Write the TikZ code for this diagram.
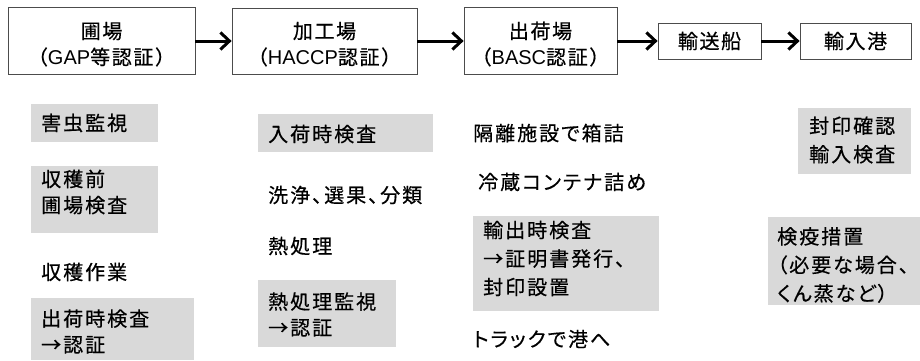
\documentclass[tikz,border=0pt]{standalone}
\usepackage{fontspec}
\setmainfont{Noto Sans CJK JP}[LetterSpace=10, RawFeature=+palt, FakeBold=0.5]
\newfontfamily\fullwidthfont{Noto Sans CJK JP}[LetterSpace=8, FakeBold=0.5]
\newfontfamily\latinfont{Liberation Sans}
\usetikzlibrary{arrows.meta}
\newcommand\fonta{\fontsize{20pt}{26pt}\selectfont}
\newcommand\fontb{\fontsize{20pt}{28.5pt}\selectfont}
\newcommand\lt[1]{{\latinfont #1}}
\begin{document}
\begin{tikzpicture}[x=1pt,y=-1pt,
  stagebox/.style={draw=black!70, line width=0.8pt, inner sep=0pt, align=center, font=\fonta\fullwidthfont},
  note/.style={anchor=west, inner sep=0pt, align=left, font=\fonta},
  greyfill/.style={fill=black!15},
  arr/.style={line width=3pt, -{Straight Barb[length=9pt,width=17pt]}}]
\useasboundingbox (0,0) rectangle (920,360);

% stages
\node[stagebox, minimum width=187pt, minimum height=67pt] (b1) at (101.5,41) {\rule{0pt}{23pt}圃場\\（\lt{GAP}等認証）};
\node[stagebox, minimum width=185pt, minimum height=66pt] (b2) at (324.5,41) {\rule{0pt}{23pt}加工場\\（\lt{HACCP}認証）};
\node[stagebox, minimum width=153pt, minimum height=67pt] (b3) at (540.5,41) {\rule{0pt}{23pt}出荷場\\（\lt{BASC}認証）};
\node[stagebox, minimum width=103pt, minimum height=36pt] (b4) at (709.5,41) {輸送船};
\node[stagebox, minimum width=111pt, minimum height=36pt] (b5) at (855.5,41) {輸入港};

\draw[arr] (b1) -- (b2);
\draw[arr] (b2) -- (b3);
\draw[arr] (b3) -- (b4);
\draw[arr] (b4) -- (b5);

% grey backgrounds
\fill[greyfill] (31,104) rectangle (158,142);
\fill[greyfill] (31,166) rectangle (158,233);
\fill[greyfill] (31,298) rectangle (194,360);
\fill[greyfill] (258,114) rectangle (433,152);
\fill[greyfill] (258,280) rectangle (396,347);
\fill[greyfill] (473,216) rectangle (659,311);
\fill[greyfill] (798,108) rectangle (911,174);
\fill[greyfill] (768,217) rectangle (920,305);

% column 1
\node[note] (n1) at (41,123) {害虫監視};
\node[note] (n2) at (41,192) {収穫前\\圃場検査};
\node[note] (n3) at (41,272) {収穫作業};
\node[note] (n4) at (41,331.5) {出荷時検査\\→認証};
% column 2
\node[note] (m1) at (268,134) {入荷時検査};
\node[note] (m2) at (268,195) {洗浄、選果、分類};
\node[note] (m3) at (268,246) {熱処理};
\node[note] (m4) at (268,314.5) {熱処理監視\\→認証};
% column 3
\node[note] (r1) at (473,133) {隔離施設で箱詰};
\node[note] (r2) at (478,182) {冷蔵コンテナ詰め};
\node[note, font=\fontb] (r3) at (483,258.5) {輸出時検査\\→証明書発行、\\封印設置};
\node[note] (r4) at (473,339) {トラックで港へ};
% column 4
\node[note, font=\fontb] (s1) at (809,140) {封印確認\\輸入検査};
\node[note, font=\fontb] (s2) at (777,265) {検疫措置\\（必要な場合、\\くん蒸など）};
\end{tikzpicture}
\end{document}
